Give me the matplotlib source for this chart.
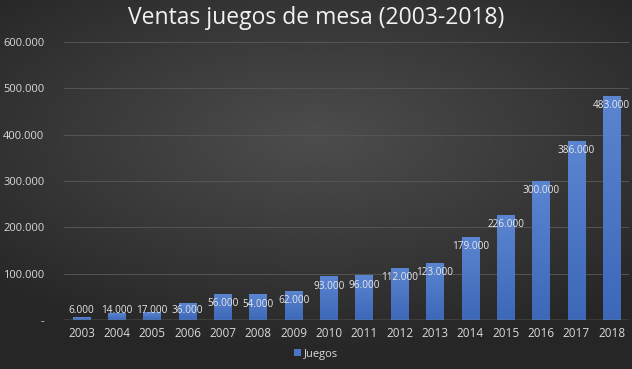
import numpy as np
import matplotlib.pyplot as plt
from matplotlib.colors import LinearSegmentedColormap

years = ['2003', '2004', '2005', '2006', '2007', '2008', '2009', '2010',
         '2011', '2012', '2013', '2014', '2015', '2016', '2017', '2018']
ventas = [6000, 14000, 17000, 36000, 56000, 54000, 62000, 93000,
          96000, 112000, 123000, 179000, 226000, 300000, 386000, 483000]
yticks = [0, 100000, 200000, 300000, 400000, 500000, 600000]


def fmt(v):
    return '-' if v == 0 else f'{v:,}'.replace(',', '.')


plt.rcParams['font.family'] = ['Open Sans', 'DejaVu Sans']

fig = plt.figure(figsize=(6.32, 3.69), dpi=100)

# dark radial gradient background
bg = fig.add_axes([0, 0, 1, 1])
yy, xx = np.mgrid[-1:1:369j, -1:1:632j]
r = np.sqrt((xx * 0.9) ** 2 + ((yy + 0.25) * 1.1) ** 2)
cmap = LinearSegmentedColormap.from_list('bg', ['#4d4d4d', '#262626'])
bg.imshow(r, cmap=cmap, aspect='auto', extent=[0, 1, 0, 1], vmin=0, vmax=1.3)
bg.axis('off')

ax = fig.add_axes([0.101, 0.133, 0.895, 0.753])
ax.patch.set_alpha(0)
x = np.arange(len(years))
bars = ax.bar(x, ventas, width=0.5, color='#4a74c4', label='Juegos', zorder=3)

# slight vertical gradient on bars
grad = np.linspace(0, 1, 100).reshape(-1, 1)
bcmap = LinearSegmentedColormap.from_list('bar', ['#3d68b8', '#5b85d0'])
for b in bars:
    ax.imshow(grad, cmap=bcmap, aspect='auto', origin='lower', zorder=3,
              extent=[b.get_x(), b.get_x() + b.get_width(), 0, b.get_height()])
ax.set_xlim(-0.5, len(years) - 0.5)
ax.set_ylim(0, 600000)

for xi, v in zip(x, ventas):
    ly = max(v - 21000, 19500)
    ax.text(xi, ly, fmt(v), ha='center', va='center', color='#e8e8e8',
            fontsize=7.2, zorder=4)

ax.set_yticks(yticks)
ax.set_yticklabels([fmt(t) for t in yticks])
ax.set_xticks(x)
ax.set_xticklabels(years)
ax.tick_params(axis='y', colors='#d9d9d9', labelsize=8, length=0, pad=14)
ax.tick_params(axis='x', colors='#d9d9d9', labelsize=8.5, length=0, pad=5)
ax.grid(axis='y', color='#555555', linewidth=0.7, zorder=0)
ax.axhline(0, color='#8c8c8c', linewidth=1, zorder=4)
for s in ax.spines.values():
    s.set_visible(False)

fig.text(0.5, 0.95, 'Ventas juegos de mesa (2003-2018)', ha='center',
         va='center', color='#f2f2f2', fontsize=16.5)

leg = fig.legend(handles=[bars], labels=['Juegos'], loc='center',
                 bbox_to_anchor=(0.5, 0.04), frameon=False, fontsize=8,
                 handlelength=0.6, handleheight=0.6, handletextpad=0.3)
for t in leg.get_texts():
    t.set_color('#d9d9d9')

fig.savefig('out.png', dpi=100)
